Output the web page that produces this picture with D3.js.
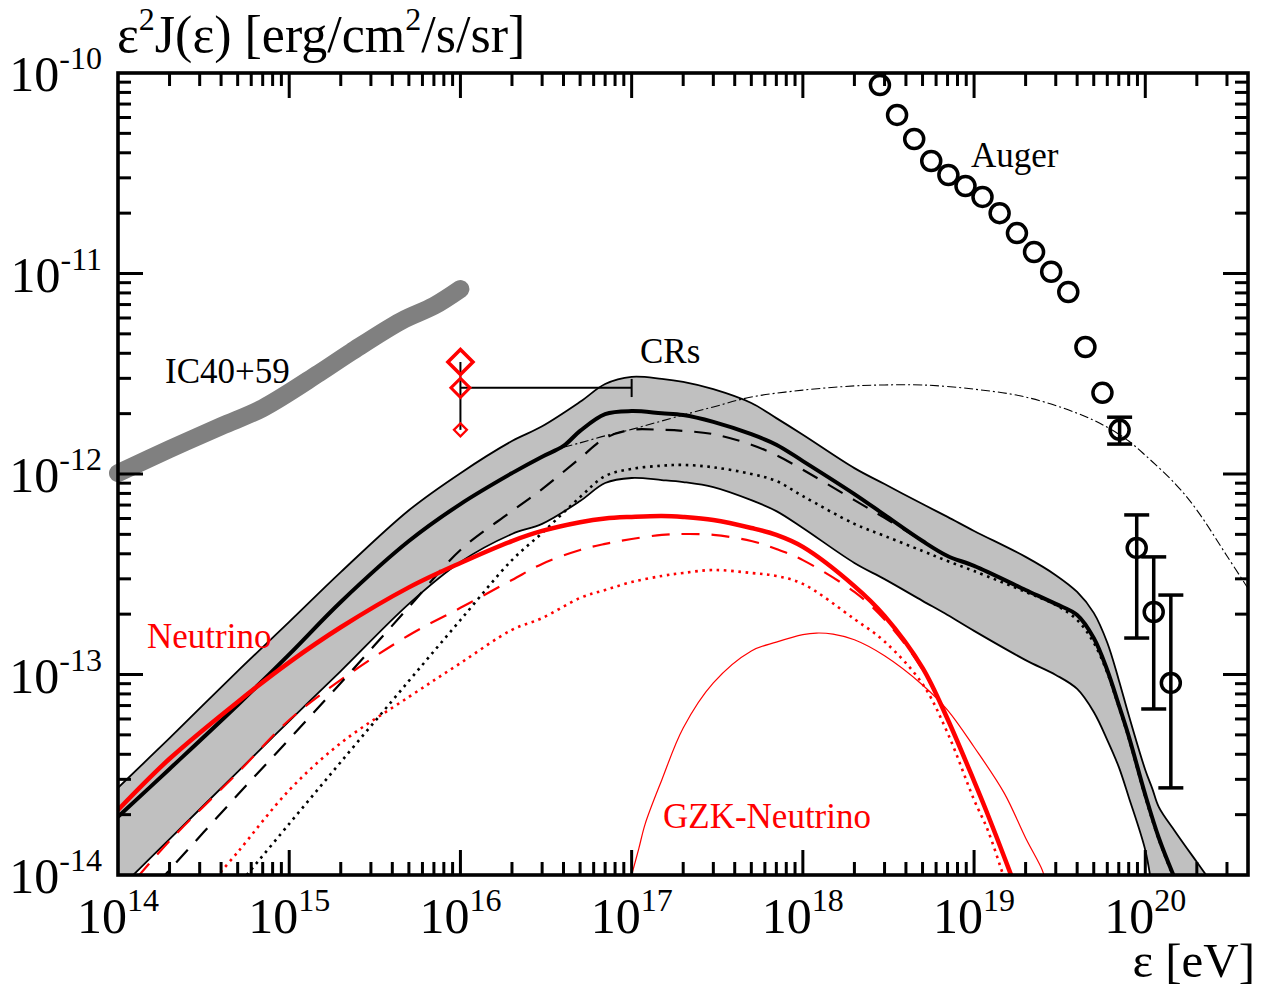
<!DOCTYPE html>
<html><head><meta charset="utf-8">
<script src="https://cdn.jsdelivr.net/npm/d3@7"></script>
<style>
body{margin:0;background:#fff}
svg{display:block}
text{font-family:"Liberation Serif","Times New Roman",serif}
</style>
</head><body>
<svg id="c" width="1273" height="990"></svg>
<script>
// ---------------- data (energy in eV, E^2 J in erg/cm^2/s/sr) ----------------
const crBandE  = [1e14,2e14,5e14,1e15,2e15,5e15,1e16,2e16,3e16,5e16,7e16,1e17,1.5e17,2e17,3e17,5e17,7e17,1e18,2e18,3e18,5e18,7e18,1e19,2e19,3e19,4e19,5e19,6e19,7e19,8e19,1e20,1.1e20,1.2e20,1.5e20,2e20,2.5e20];
const crBandHi = [2.72e-14,4.82e-14,1.04e-13,1.83e-13,3.24e-13,6.6e-13,1.01e-12,1.46e-12,1.73e-12,2.29e-12,2.81e-12,3.05e-12,2.98e-12,2.88e-12,2.65e-12,2.26e-12,1.90e-12,1.57e-12,1.07e-12,8.91e-13,7.08e-13,6.11e-13,5.20e-13,3.86e-13,3.13e-13,2.58e-13,2.03e-13,1.44e-13,9.40e-14,6.28e-14,3.34e-14,2.69e-14,2.18e-14,1.64e-14,1.16e-14,8.9e-15];
const crBandLo = [8.41e-15,1.51e-14,3.27e-14,5.86e-14,1.04e-13,2.25e-13,3.64e-13,5.02e-13,5.64e-13,7.33e-13,9.02e-13,9.55e-13,9.33e-13,9.12e-13,8.61e-13,7.41e-13,6.53e-13,5.38e-13,3.60e-13,2.99e-13,2.33e-13,1.98e-13,1.65e-13,1.18e-13,9.95e-14,8.47e-14,6.50e-14,4.71e-14,3.46e-14,2.45e-14,1.33e-14,8.41e-15,5e-15,2e-15,1e-15,1e-15];

const crTotal = [[1e14,1.95e-14],[2e14,3.38e-14],[5e14,7.05e-14],[1e15,1.26e-13],[2e15,2.30e-13],[5e15,4.63e-13],[1e16,7.08e-13],[2e16,1.01e-12],[3e16,1.22e-12],[4e16,1.38e-12],[5e16,1.64e-12],[7e16,1.99e-12],[1e17,2.06e-12],[1.5e17,2.01e-12],[2e17,1.97e-12],[3e17,1.82e-12],[5e17,1.58e-12],[7e17,1.40e-12],[1e18,1.16e-12],[2e18,7.94e-13],[3e18,6.25e-13],[5e18,4.63e-13],[7e18,3.90e-13],[1e19,3.48e-13],[2e19,2.64e-13],[3e19,2.25e-13],[4e19,1.98e-13],[5e19,1.52e-13],[6e19,1.05e-13],[7e19,7.05e-14],[8e19,4.93e-14],[1e20,2.51e-14],[1.2e20,1.53e-14],[1.5e20,9.44e-15]];
const crDashed = [[1e14,5.51e-15],[2e14,1.06e-14],[5e14,2.51e-14],[1e15,4.76e-14],[2e15,9.08e-14],[5e15,2.17e-13],[1e16,4.18e-13],[2e16,6.53e-13],[3e16,8.41e-13],[5e16,1.20e-12],[7e16,1.51e-12],[1e17,1.66e-12],[1.5e17,1.66e-12],[2e17,1.64e-12],[3e17,1.58e-12],[5e17,1.40e-12],[7e17,1.24e-12],[1e18,1.05e-12],[2e18,7.41e-13],[3e18,6.04e-13],[5e18,4.63e-13],[7e18,3.90e-13],[1e19,3.48e-13],[2e19,2.64e-13],[3e19,2.25e-13],[4e19,1.98e-13],[5e19,1.52e-13],[6e19,1.05e-13],[7e19,7.05e-14],[8e19,4.93e-14],[1e20,2.51e-14],[1.2e20,1.53e-14],[1.5e20,9.44e-15]];
const crDotted = [[5e14,8.81e-15],[1e15,1.80e-14],[2e15,3.66e-14],[5e15,9.29e-14],[1e16,1.87e-13],[2e16,3.72e-13],[3e16,5.08e-13],[5e16,7.67e-13],[7e16,9.77e-13],[1e17,1.06e-12],[1.5e17,1.10e-12],[2e17,1.11e-12],[3e17,1.08e-12],[5e17,1.00e-12],[7e17,9.23e-13],[1e18,7.76e-13],[2e18,5.64e-13],[3e18,4.91e-13],[5e18,4.13e-13],[7e18,3.68e-13],[1e19,3.28e-13],[2e19,2.58e-13],[3e19,2.22e-13],[4e19,1.87e-13],[5e19,1.44e-13],[6e19,1.02e-13],[7e19,6.89e-14],[8e19,4.82e-14],[1e20,2.45e-14],[1.2e20,1.50e-14],[1.5e20,9.23e-15]];

const nuTotal  = [[1e14,2.11e-14],[2e14,3.80e-14],[5e14,7.30e-14],[1e15,1.15e-13],[2e15,1.72e-13],[5e15,2.72e-13],[1e16,3.60e-13],[2e16,4.63e-13],[3e16,5.20e-13],[5e16,5.75e-13],[7e16,6.00e-13],[1e17,6.11e-13],[1.5e17,6.18e-13],[2e17,6.11e-13],[3e17,5.90e-13],[5e17,5.38e-13],[7e17,4.97e-13],[1e18,4.33e-13],[2e18,2.76e-13],[3e18,1.96e-13],[5e18,1.08e-13],[7e18,6.00e-14],[1e19,2.94e-14],[1.2e19,2.01e-14],[1.5e19,1.23e-14],[1.8e19,8.13e-15]];
const nuDashed = [[1e14,7.50e-15],[2e14,1.48e-14],[5e14,3.23e-14],[1e15,5.93e-14],[2e15,9.40e-14],[5e15,1.57e-13],[1e16,2.15e-13],[2e16,2.96e-13],[3e16,3.56e-13],[5e16,4.18e-13],[7e16,4.48e-13],[1e17,4.74e-13],[1.5e17,4.97e-13],[2e17,5.02e-13],[3e17,4.97e-13],[5e17,4.63e-13],[7e17,4.23e-13],[1e18,3.72e-13],[2e18,2.58e-13],[3e18,1.88e-13],[5e18,1.06e-13],[7e18,6.00e-14],[1e19,2.94e-14],[1.2e19,2.01e-14],[1.5e19,1.23e-14],[1.8e19,8.13e-15]];
const nuDotted = [[3.5e14,9.12e-15],[5e14,1.30e-14],[1e15,2.65e-14],[2e15,4.55e-14],[5e15,7.73e-14],[1e16,1.14e-13],[2e16,1.67e-13],[3e16,1.91e-13],[5e16,2.41e-13],[7e16,2.64e-13],[1e17,2.89e-13],[1.5e17,3.10e-13],[2e17,3.21e-13],[3e17,3.32e-13],[5e17,3.21e-13],[7e17,3.10e-13],[1e18,2.83e-13],[2e18,1.89e-13],[3e18,1.46e-13],[5e18,8.97e-14],[7e18,5.11e-14],[1e19,2.37e-14],[1.2e19,1.68e-14],[1.5e19,9.6e-15],[1.6e19,8.0e-15]];
const gzkNu    = [[9.5e16,8.41e-15],[1e17,1.00e-14],[1.1e17,1.35e-14],[1.2e17,1.80e-14],[1.5e17,2.98e-14],[2e17,5.41e-14],[3e17,9.08e-14],[5e17,1.31e-13],[7e17,1.45e-13],[1e18,1.58e-13],[1.2e18,1.61e-13],[1.5e18,1.59e-13],[2e18,1.49e-13],[3e18,1.24e-13],[5e18,8.87e-14],[7e18,6.65e-14],[1e19,4.35e-14],[1.5e19,2.56e-14],[2e19,1.53e-14],[2.5e19,1.06e-14],[2.6e19,9.44e-15]];
const crDashDot = [[4e16,1.36e-12],[5e16,1.43e-12],[7e16,1.55e-12],[1e17,1.67e-12],[2e17,1.97e-12],[3e17,2.16e-12],[5e17,2.42e-12],[1e18,2.62e-12],[2e18,2.75e-12],[3e18,2.78e-12],[5e18,2.78e-12],[1e19,2.65e-12],[2e19,2.42e-12],[4e19,2.01e-12],[6e19,1.71e-12],[8e19,1.46e-12],[1e20,1.24e-12],[1.5e20,8.91e-13],[2e20,6.61e-13],[3e20,3.90e-13],[4e20,2.67e-13]];

const ic4059 = [[1e14,1.01e-12],[2e14,1.33e-12],[4e14,1.73e-12],[7e14,2.13e-12],[1.5e15,3.19e-12],[2.3e15,4.06e-12],[4.5e15,5.79e-12],[7e15,6.89e-12],[1e16,8.37e-12]];

const diamondE = [1e16,1e16,1e16];
const diamondF = [3.62e-12,2.69e-12,1.66e-12];
const rangeE = [1e16,1e17];
const rangeF = 2.69e-12;
const rangeTickF = [2.42e-12,2.98e-12];

const augerE = [2.82e18,3.55e18,4.47e18,5.62e18,7.08e18,8.91e18,1.12e19,1.41e19,1.78e19,2.24e19,2.82e19,3.55e19,4.47e19,5.62e19,7.08e19,8.91e19,1.12e20,1.41e20];
const augerF = [8.71e-11,6.18e-11,4.69e-11,3.64e-11,3.10e-11,2.73e-11,2.41e-11,2.00e-11,1.59e-11,1.28e-11,1.02e-11,8.09e-12,4.30e-12,2.54e-12,1.66e-12,4.28e-13,2.05e-13,9.08e-14];
const augerErrE  = [7.08e19,8.91e19,1.12e20,1.41e20];
const augerErrLo = [1.41e-12,1.52e-13,6.73e-14,2.72e-14];
const augerErrHi = [1.92e-12,6.25e-13,3.86e-13,2.49e-13];

const xTickLabels = ["14","15","16","17","18","19","20"];
const yTickLabels = ["-10","-11","-12","-13","-14"];

// ---------------- drawing ----------------
const svg = d3.select("#c");
const x = d3.scaleLog().domain([1e14, 3.98e20]).range([118, 1248]);
const y = d3.scaleLog().domain([1e-14, 1e-10]).range([875, 73]);
const [X0, X1] = x.range(), [Y0, Y1] = y.range();

svg.append("rect").attr("width",1273).attr("height",990).attr("fill","#fff");
svg.append("defs").append("clipPath").attr("id","clip").append("rect")
  .attr("x",X0).attr("y",Y1).attr("width",X1-X0).attr("height",Y0-Y1);
const plot = svg.append("g").attr("clip-path","url(#clip)");

const smooth = d3.curveCatmullRom.alpha(0.5);
const line = d3.line().x(d=>x(d[0])).y(d=>y(d[1])).curve(smooth);

// CR band
const area = d3.area().x(d=>x(d)).y0((d,i)=>y(crBandLo[i])).y1((d,i)=>y(crBandHi[i])).curve(smooth);
plot.append("path").datum(crBandE).attr("d",area).attr("fill","#c0c0c0");
const hiPts = crBandE.map((e,i)=>[e,crBandHi[i]]);
const loPts = crBandE.map((e,i)=>[e,crBandLo[i]]);
[hiPts, loPts].forEach(p=>plot.append("path").datum(p).attr("d",line)
  .attr("fill","none").attr("stroke","#000").attr("stroke-width",1.8));

function curve(data, color, w, dash){
  const p = plot.append("path").datum(data).attr("d",line).attr("fill","none")
    .attr("stroke",color).attr("stroke-width",w).attr("stroke-linejoin","round");
  if(dash) p.attr("stroke-dasharray",dash);
  return p;
}
curve(crDashDot,"#000",1.1,"9,3,2,3");
curve(nuDotted,"#ff0000",2.6,"2.6,4.6");
curve(nuDashed,"#ff0000",2.2,"18,12");
curve(gzkNu,"#ff0000",1.2);
curve(crDotted,"#000",2.6,"2.6,4.6");
curve(crDashed,"#000",2.2,"17,12");
curve(crTotal,"#000",4);
curve(nuTotal,"#ff0000",4.5);

// IC40+59 limit
svg.append("path").datum(ic4059)
  .attr("d", d3.line().x(d=>x(d[0])).y(d=>y(d[1])).curve(smooth))
  .attr("fill","none").attr("stroke","#808080").attr("stroke-width",18)
  .attr("stroke-linecap","round").attr("stroke-linejoin","round");

// range bar + diamonds
const g2 = svg.append("g").attr("stroke","#000").attr("stroke-width",2);
g2.append("line").attr("x1",x(diamondE[0])).attr("x2",x(diamondE[2]))
  .attr("y1",y(diamondF[0])).attr("y2",y(diamondF[2]));
g2.append("line").attr("x1",x(rangeE[0])).attr("x2",x(rangeE[1]))
  .attr("y1",y(rangeF)).attr("y2",y(rangeF));
g2.append("line").attr("x1",x(rangeE[1])).attr("x2",x(rangeE[1]))
  .attr("y1",y(rangeTickF[0])).attr("y2",y(rangeTickF[1]));
const dSize = [12.5, 9.5, 6.5], dW = [3.6, 3, 2.2];
diamondE.forEach((e,i)=>{
  const cx = x(e), cy = y(diamondF[i]), s = dSize[i];
  svg.append("path").attr("d",`M${cx},${cy-s}L${cx+s},${cy}L${cx},${cy+s}L${cx-s},${cy}Z`)
    .attr("fill","none").attr("stroke","#ff0000").attr("stroke-width",dW[i]);
});

// Auger
const ga = svg.append("g").attr("stroke","#000").attr("stroke-width",3.5).attr("fill","none");
augerErrE.forEach((e,i)=>{
  const cx = x(e);
  ga.append("line").attr("x1",cx).attr("x2",cx).attr("y1",y(augerErrLo[i])).attr("y2",y(augerErrHi[i]));
  [augerErrLo[i],augerErrHi[i]].forEach(v=>ga.append("line").attr("x1",cx-12.5).attr("x2",cx+12.5).attr("y1",y(v)).attr("y2",y(v)));
});
augerE.forEach((e,i)=>{
  ga.append("circle").attr("cx",x(e)).attr("cy",y(augerF[i])).attr("r",9.5);
});

// frame
svg.append("rect").attr("x",X0).attr("y",Y1).attr("width",X1-X0).attr("height",Y0-Y1)
  .attr("fill","none").attr("stroke","#000").attr("stroke-width",3.6);

// ticks
const isMajor = v => Math.abs(Math.log10(v) - Math.round(Math.log10(v))) < 1e-6;
const tg = svg.append("g").attr("stroke","#000").attr("stroke-width",3);
x.ticks().filter(v=>v>x.domain()[0] && v<x.domain()[1]).forEach(v=>{
  const L = isMajor(v) ? 25 : 13, px = x(v);
  tg.append("line").attr("x1",px).attr("x2",px).attr("y1",Y0).attr("y2",Y0-L);
  tg.append("line").attr("x1",px).attr("x2",px).attr("y1",Y1).attr("y2",Y1+L);
});
y.ticks().filter(v=>v>y.domain()[0] && v<y.domain()[1]).forEach(v=>{
  const L = isMajor(v) ? 25 : 13, py = y(v);
  tg.append("line").attr("x1",X0).attr("x2",X0+L).attr("y1",py).attr("y2",py);
  tg.append("line").attr("x1",X1).attr("x2",X1-L).attr("y1",py).attr("y2",py);
});

// tick labels
const xMaj = xTickLabels.map(s=>Math.pow(10,+s));
xMaj.forEach((v,i)=>{
  const t = svg.append("text").attr("x",x(v)).attr("y",933).attr("text-anchor","middle").attr("font-size",50);
  t.append("tspan").text("10");
  t.append("tspan").attr("dy",-22).attr("font-size",32).text(xTickLabels[i]);
});
const yMaj = yTickLabels.map(s=>Math.pow(10,+s));
yMaj.forEach((v,i)=>{
  const t = svg.append("text").attr("x",102).attr("y",y(v)+18).attr("text-anchor","end").attr("font-size",50);
  t.append("tspan").text("10");
  t.append("tspan").attr("dy",-22).attr("font-size",32).text(yTickLabels[i]);
});

// axis titles
const yt = svg.append("text").attr("x",117).attr("y",52).attr("font-size",52);
yt.append("tspan").text("ε");
yt.append("tspan").attr("dy",-22).attr("font-size",32).text("2");
yt.append("tspan").attr("dy",22).text("J(ε) [erg/cm");
yt.append("tspan").attr("dy",-22).attr("font-size",32).text("2");
yt.append("tspan").attr("dy",22).text("/s/sr]");
svg.append("text").attr("x",1255).attr("y",977).attr("text-anchor","end").attr("font-size",49).text("ε [eV]");

// annotations
const ann = [
  {t:"IC40+59", x:165, y:383, c:"#000"},
  {t:"CRs", x:640, y:363, c:"#000"},
  {t:"Auger", x:971, y:167, c:"#000"},
  {t:"Neutrino", x:147, y:648, c:"#ff0000"},
  {t:"GZK-Neutrino", x:663, y:828, c:"#ff0000"}
];
ann.forEach(a=>svg.append("text").attr("x",a.x).attr("y",a.y).attr("font-size",35).attr("fill",a.c).text(a.t));
</script>
</body></html>
